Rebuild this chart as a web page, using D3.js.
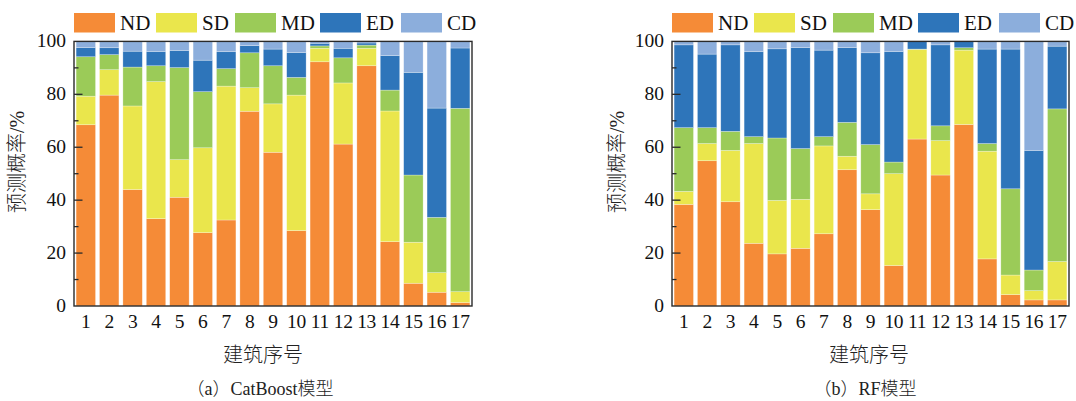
<!DOCTYPE html>
<html>
<head>
<meta charset="utf-8">
<script src="https://cdn.jsdelivr.net/npm/d3@7"></script>
<style>
  body { margin: 0; background: #fff; }
  svg { display: block; }
</style>
</head>
<body>
<svg id="chart" width="1076" height="401"></svg>
<script>
// Building IDs and damage classes
const buildings = d3.range(1, 18).map(String);
const classes = ["ND", "SD", "MD", "ED", "CD"];
const classColors = ["#F58B37", "#EAE64C", "#9BCB58", "#2E75BA", "#8CAEDC"];
const yTicks = [0, 20, 40, 60, 80, 100];

// CatBoost predicted probabilities (%) per building
const catND = [68.5, 79.7, 44.0, 33.0, 41.1, 27.7, 32.5, 73.6, 58.1, 28.5, 92.3, 61.2, 90.8, 24.3, 8.6, 5.2, 1.3];
const catSD = [10.8, 9.6, 31.6, 51.8, 14.2, 32.1, 50.6, 8.9, 18.3, 51.2, 5.1, 23.1, 6.6, 49.4, 15.5, 7.4, 4.1];
const catMD = [14.9, 5.7, 14.7, 6.0, 34.8, 21.2, 6.6, 13.2, 14.4, 6.7, 0.9, 9.5, 1.2, 7.9, 25.4, 20.9, 69.3];
const catED = [3.5, 2.6, 6.0, 5.4, 6.5, 11.9, 6.4, 2.7, 6.3, 9.4, 1.0, 3.6, 0.8, 13.0, 38.8, 41.3, 22.8];
const catCD = [2.3, 2.4, 3.7, 3.8, 3.4, 7.1, 3.9, 1.6, 2.9, 4.2, 0.7, 2.6, 0.6, 5.4, 11.7, 25.2, 2.5];

// Random forest predicted probabilities (%) per building
const rfND = [38.4, 54.9, 39.4, 23.7, 19.7, 21.8, 27.3, 51.5, 36.4, 15.3, 63.1, 49.5, 68.6, 17.8, 4.3, 2.3, 2.3];
const rfSD = [4.9, 6.5, 19.4, 37.7, 20.2, 18.5, 33.2, 5.1, 6.0, 34.7, 33.9, 13.0, 28.1, 40.7, 7.4, 3.5, 14.5];
const rfMD = [24.1, 6.0, 7.2, 2.6, 23.6, 19.2, 3.5, 12.8, 18.6, 4.4, 0.1, 5.6, 0.9, 2.9, 32.6, 7.8, 57.7];
const rfED = [31.3, 27.8, 32.7, 32.1, 33.7, 38.2, 32.7, 28.3, 34.7, 41.8, 2.9, 30.6, 2.4, 35.7, 52.8, 45.2, 23.7];
const rfCD = [1.3, 4.8, 1.3, 3.9, 2.8, 2.3, 3.3, 2.3, 4.3, 3.8, 0.0, 1.3, 0.0, 2.9, 2.9, 41.2, 1.8];

function toRows(series) {
  return buildings.map((b, i) => {
    const row = { building: b };
    classes.forEach((c, k) => { row[c] = series[k][i]; });
    return row;
  });
}

const panels = [
  { left: 74, right: 472, xTitleX: 263, captionX: 260, yTitleX: 17,
    caption: "（a）CatBoost模型",
    rows: toRows([catND, catSD, catMD, catED, catCD]) },
  { left: 672, right: 1069, xTitleX: 869, captionX: 865, yTitleX: 617,
    caption: "（b）RF模型",
    rows: toRows([rfND, rfSD, rfMD, rfED, rfCD]) }
];

const plotTop = 41.4, plotBottom = 306;
const legendOffsets = [0, 82, 161, 246, 327];
const serif = "'Liberation Serif', 'Times New Roman', serif";
const cjk = "'Liberation Serif', 'Noto Sans CJK SC', serif";
const svg = d3.select("#chart");
const color = d3.scaleOrdinal(classes, classColors);
const stack = d3.stack().keys(classes);

panels.forEach(p => {
  const g = svg.append("g");
  const x = d3.scaleBand(buildings, [p.left, p.right]).paddingInner(0.17).paddingOuter(0.09);
  const y = d3.scaleLinear([0, 100], [plotBottom, plotTop]);

  // stacked bars
  const layers = stack(p.rows);
  g.selectAll("g.layer").data(layers).join("g")
    .attr("class", "layer")
    .attr("fill", d => color(d.key))
    .selectAll("rect").data(d => d).join("rect")
      .attr("x", d => x(d.data.building))
      .attr("width", x.bandwidth())
      .attr("y", d => y(d[1]))
      .attr("height", d => Math.max(0, y(d[0]) - y(d[1])))
      .attr("stroke", "rgba(255,255,255,0.45)")
      .attr("stroke-width", 0.6);

  // frame
  g.append("rect")
    .attr("x", p.left).attr("y", plotTop)
    .attr("width", p.right - p.left).attr("height", plotBottom - plotTop)
    .attr("fill", "none").attr("stroke", "#2a2a2a").attr("stroke-width", 1.4);

  // inward y ticks (major + minor)
  const minor = d3.range(10, 100, 20);
  g.selectAll("line.minor").data(minor).join("line")
    .attr("class", "minor")
    .attr("x1", p.left).attr("x2", p.left + 4.5)
    .attr("y1", d => y(d)).attr("y2", d => y(d))
    .attr("stroke", "#2a2a2a").attr("stroke-width", 1.3);
  g.selectAll("line.major").data(yTicks.slice(1, -1)).join("line")
    .attr("class", "major")
    .attr("x1", p.left).attr("x2", p.left + 8.5)
    .attr("y1", d => y(d)).attr("y2", d => y(d))
    .attr("stroke", "#2a2a2a").attr("stroke-width", 1.3);

  // y tick labels
  g.selectAll("text.ytick").data(yTicks).join("text")
    .attr("class", "ytick")
    .attr("x", p.left - 8).attr("y", d => y(d))
    .attr("dy", "0.3em")
    .attr("text-anchor", "end")
    .attr("font-family", serif).attr("font-size", 19.5).attr("fill", "#111")
    .text(d => d);

  // x tick labels
  g.selectAll("text.xtick").data(buildings).join("text")
    .attr("class", "xtick")
    .attr("x", d => x(d) + x.bandwidth() / 2).attr("y", 328)
    .attr("text-anchor", "middle")
    .attr("font-family", serif).attr("font-size", 19.5).attr("fill", "#111")
    .attr("letter-spacing", -0.3)
    .text(d => d);

  // axis titles
  g.append("text")
    .attr("x", p.xTitleX).attr("y", 362)
    .attr("text-anchor", "middle")
    .attr("font-family", cjk).attr("font-size", 20).attr("font-weight", 300).attr("fill", "#222")
    .text("建筑序号");
  g.append("text")
    .attr("transform", `translate(${p.yTitleX + 7},162) rotate(-90)`)
    .attr("text-anchor", "middle")
    .attr("font-family", cjk).attr("font-size", 20).attr("font-weight", 300).attr("fill", "#222")
    .text("预测概率/%");

  // caption
  g.append("text")
    .attr("x", p.captionX).attr("y", 395)
    .attr("text-anchor", "middle")
    .attr("font-family", cjk).attr("font-size", 18).attr("font-weight", 300).attr("fill", "#222")
    .text(p.caption);

  // legend
  const lg = g.selectAll("g.legend").data(classes).join("g")
    .attr("class", "legend")
    .attr("transform", (c, i) => `translate(${p.left + legendOffsets[i]},0)`);
  lg.append("rect")
    .attr("x", 0).attr("y", 13).attr("width", 41).attr("height", 19.5)
    .attr("fill", c => color(c));
  lg.append("text")
    .attr("x", 46).attr("y", 30)
    .attr("font-family", serif).attr("font-size", 21).attr("fill", "#111")
    .text(c => c);
});
</script>
</body>
</html>
